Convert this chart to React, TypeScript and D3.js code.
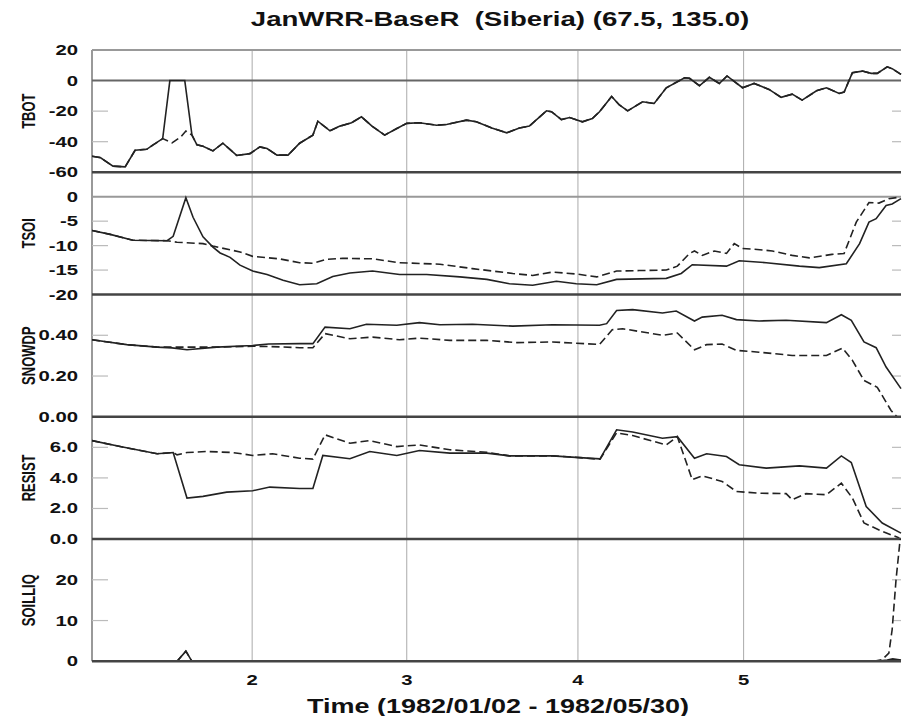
import React, { useEffect, useRef } from "react";
import * as d3 from "d3";

const WIDTH = 902;
const HEIGHT = 716;

// x is day of year 1982 (Jan 1 = 0), ticks at month starts
const monthTicks = [31, 59, 90, 120];
const monthLabels = ["2", "3", "4", "5"];

// TBOT (solid run, dashed run)
const tbotA = [
  [2, -49.5], [3.5, -50.4], [5.8, -56], [8, -56.5], [9.8, -45.6], [11.9, -45], [13, -42.3],
  [14.8, -38], [16.1, 0], [18.8, 0], [20.1, -35.7], [21, -42], [22.1, -43], [23.9, -46],
  [25.7, -41], [28.2, -49], [30.6, -47.8], [32.4, -43.4], [33.7, -44.5], [35.5, -48.8],
  [37.5, -48.8], [39.6, -41], [42, -35.7], [42.9, -26.6], [45.1, -32.9], [46.9, -29.8],
  [49, -27.6], [50.8, -23.7], [52.7, -29.8], [55, -35.7], [57.2, -31.4], [59, -28],
  [61.3, -27.6], [64.4, -29.2], [66.2, -28.7], [69.8, -25.9], [71.6, -27], [74.4, -31],
  [77.1, -34.2], [79.4, -31], [81.2, -29.8], [84.3, -19.8], [85.2, -20.4], [87, -25.5],
  [88.5, -24.2], [90.8, -27], [92.6, -24.8], [93.9, -20.4], [96.1, -10.4], [97.5, -16],
  [99, -19.8], [101.7, -13.9], [103.8, -15], [106, -4.7], [109.3, 1.8], [110.2, 1.5],
  [112, -3.4], [113.8, 2.1], [115.6, -1.9], [117, 3], [119.8, -4.7], [121.9, -1.9],
  [124.6, -5.8], [126.8, -11], [128.8, -8.9], [130.6, -12.8], [133.2, -6.7], [135, -4.7],
  [137.3, -8.4], [138.2, -7.5], [139.7, 5.1], [141.5, 6.2], [143.1, 4.7], [144.2, 4.7],
  [146, 9], [146.9, 7.8], [148.5, 4],
];
// dashed run only differs around the warm spike
const tbotB = [
  ...tbotA.slice(0, 8),
  [16.5, -40.8], [18.1, -36.8], [19, -33],
  ...tbotA.slice(10),
];

// TSOI
const tsoiA = [
  [2, -6.9], [5.3, -7.7], [9.4, -8.9], [15.6, -9], [16.7, -8.1], [19, -0.2], [20.3, -4.2],
  [22.1, -8.2], [23.9, -10.3], [25.2, -11.5], [27, -12.4], [28.8, -14], [31.1, -15.2],
  [33.7, -15.9], [36.6, -17.1], [39.6, -18], [42.7, -17.8], [45.6, -16.3], [48.7, -15.6],
  [52.8, -15.2], [57.7, -15.9], [62.6, -15.9], [68.6, -16.4], [73.5, -16.9], [77.6, -17.8],
  [81.8, -18.1], [86.1, -17.3], [89.7, -17.8], [93.4, -18], [97, -16.9], [106, -16.7],
  [108.7, -15.7], [110.7, -13.9], [116.9, -14.2], [119.2, -13.1], [124.1, -13.5],
  [130.1, -14.2], [133.7, -14.5], [138.6, -13.7], [141, -9.6], [142.7, -5.2], [144, -4.5],
  [145.8, -1.8], [146.9, -1.5], [148.5, -0.4],
];
const tsoiB = [
  [2, -6.9], [5.3, -7.7], [9.4, -8.9], [15.6, -9], [17.4, -9.3], [22.1, -9.6], [23.9, -10.1],
  [28.8, -11.3], [31.1, -12.2], [35.9, -12.7], [39.6, -13.5], [42, -13.6], [44.5, -12.8],
  [47.4, -12.6], [52.8, -12.7], [57.7, -13.5], [65, -13.8], [70.9, -14.7], [78.2, -15.7],
  [81.8, -16.1], [85.4, -15.4], [89.7, -15.8], [93.4, -16.4], [97, -15.2], [101.1, -15.1],
  [106, -15], [108, -14.2], [110.2, -11.6], [111.1, -11.1], [112.5, -12], [114.7, -11.1],
  [116.9, -11.6], [118.3, -9.6], [119.8, -10.6], [121.6, -10.7], [125.2, -11.1],
  [128.8, -12], [131.9, -12.5], [136, -11.8], [138.2, -11.6], [140.4, -5.2], [142.7, -1.2],
  [144.5, -1.3], [146.3, -0.4], [148.2, -0.1],
];

// SNOWDP
const snowA = [
  [2, 0.378], [8.3, 0.354], [13.8, 0.342], [16.5, 0.338], [19.2, 0.329], [24.6, 0.342],
  [31.1, 0.35], [34, 0.357], [39.6, 0.359], [42, 0.359], [44.2, 0.44], [48.7, 0.432],
  [51.7, 0.454], [57.2, 0.449], [61.3, 0.462], [65, 0.452], [70.9, 0.454], [78.2, 0.445],
  [85.4, 0.452], [93.9, 0.449], [95.2, 0.457], [97, 0.522], [99.9, 0.526], [105.3, 0.509],
  [107.8, 0.519], [111.1, 0.47], [112.5, 0.489], [116.1, 0.498], [118.7, 0.477],
  [122.8, 0.47], [127.7, 0.474], [135, 0.462], [137.7, 0.501], [139.5, 0.473],
  [141.8, 0.367], [144, 0.339], [145.8, 0.244], [148.5, 0.138],
];
const snowB = [
  [2, 0.378], [8.3, 0.354], [13.8, 0.342], [19.2, 0.342], [24.6, 0.342], [31.1, 0.346],
  [34, 0.345], [39.6, 0.339], [42, 0.339], [44.2, 0.408], [48.7, 0.383], [52.8, 0.391],
  [57.7, 0.378], [61.3, 0.386], [66.8, 0.375], [73.5, 0.375], [78.9, 0.364], [85.4, 0.367],
  [93.9, 0.355], [96.2, 0.427], [98.1, 0.432], [105.3, 0.4], [108, 0.411], [111.1, 0.329],
  [113.3, 0.354], [116.1, 0.357], [118.7, 0.326], [122.8, 0.317], [128.8, 0.301],
  [135, 0.301], [137.9, 0.337], [139.7, 0.277], [141.8, 0.178], [144.2, 0.145],
  [146.7, 0.031], [147.8, 0],
];

// RESIST
const resistA = [
  [2, 6.44], [7.1, 6.05], [13.8, 5.58], [16.7, 5.66], [19.2, 2.68], [22.1, 2.79],
  [26.4, 3.07], [31.1, 3.16], [34.2, 3.4], [39.6, 3.31], [42, 3.31], [43.8, 5.47],
  [48.7, 5.25], [52.3, 5.73], [57.2, 5.47], [61.3, 5.79], [66.8, 5.62], [73.5, 5.62],
  [77.6, 5.44], [85.4, 5.44], [90.3, 5.33], [94, 5.25], [95.5, 6.2], [97, 7.15],
  [99.9, 7.0], [105.3, 6.6], [108, 6.7], [111.1, 5.29], [113.3, 5.58], [116.9, 5.4],
  [119.2, 4.86], [124.1, 4.64], [130.1, 4.79], [135, 4.64], [137.7, 5.44], [139.5, 5.01],
  [142.2, 2.13], [145.1, 1.05], [148.5, 0.39],
];
const resistB = [
  [2, 6.44], [7.1, 6.05], [13.8, 5.58], [16.7, 5.66], [17.4, 5.51], [19.2, 5.66],
  [22.8, 5.73], [27.5, 5.66], [31.1, 5.47], [34.7, 5.58], [39.6, 5.29], [42, 5.23],
  [44.2, 6.82], [48.7, 6.27], [52.3, 6.44], [57.2, 6.05], [61.3, 6.16], [66.8, 5.84],
  [73.5, 5.68], [77.6, 5.44], [85.4, 5.44], [90.3, 5.33], [94, 5.22], [97, 6.95],
  [99.9, 6.77], [106, 6.16], [108, 6.7], [110.7, 3.88], [112.5, 4.14], [116.1, 3.77],
  [118.7, 3.11], [122.8, 3.0], [127.7, 2.97], [128.8, 2.57], [131.3, 2.97], [135, 2.9],
  [137.7, 3.66], [139.7, 2.68], [141.8, 1.05], [145.1, 0.5], [148.2, 0.07],
];

// SOILLIQ
const soilA = [
  [2, 0], [17.4, 0], [19, 2.5], [20.1, 0], [144, 0], [146, 0.3], [147, 0.6], [148.5, 0.3],
];
const soilB = [
  [2, 0], [17.4, 0], [19, 2.5], [20.1, 0], [143.5, 0], [145.1, 0.4], [146.3, 2],
  [146.9, 7.8], [147.6, 20], [148.5, 32],
];

const panels = [
  { name: "TBOT", domain: [-60, 20], ticks: [20, 0, -20, -40, -60], fmt: "d", lines: [20, 0], a: tbotA, b: tbotB },
  { name: "TSOI", domain: [-20, 5], ticks: [0, -5, -10, -15, -20], fmt: "d", lines: [0], a: tsoiA, b: tsoiB },
  { name: "SNOWDP", domain: [0, 0.6], ticks: [0.4, 0.2, 0], fmt: ".2f", lines: [], a: snowA, b: snowB },
  { name: "RESIST", domain: [0, 8], ticks: [6, 4, 2, 0], fmt: ".1f", lines: [], a: resistA, b: resistB },
  { name: "SOILLIQ", domain: [0, 30], ticks: [20, 10, 0], fmt: "d", lines: [], a: soilA, b: soilB },
];

const App = () => {
  const svgRef = useRef(null);

  useEffect(() => {
    const svg = d3.select(svgRef.current);
    svg.selectAll("*").remove();

    const left = 92;
    const right = 901;
    const top = 50;
    const bottom = 661.3;
    const ph = (bottom - top) / panels.length;
    const font = "'Liberation Sans', Arial, sans-serif";

    const x = d3.scaleLinear().domain([2, 148.5]).range([left, right]);

    svg.append("rect").attr("width", WIDTH).attr("height", HEIGHT).attr("fill", "#fff");

    // title (two spaces kept)
    svg
      .append("text")
      .attr("transform", `translate(500,26) scale(1.38,1)`)
      .attr("text-anchor", "middle")
      .style("font-family", font)
      .style("font-weight", "bold")
      .style("font-size", "20px")
      .style("white-space", "pre")
      .attr("fill", "#111")
      .text("JanWRR-BaseR  (Siberia) (67.5, 135.0)");

    // vertical grid lines at month starts
    svg
      .selectAll(".vgrid")
      .data(monthTicks)
      .enter()
      .append("line")
      .attr("x1", (d) => x(d))
      .attr("x2", (d) => x(d))
      .attr("y1", top)
      .attr("y2", bottom)
      .attr("stroke", "#aaa")
      .attr("stroke-width", 1);

    // left axis line
    svg
      .append("line")
      .attr("x1", left)
      .attr("x2", left)
      .attr("y1", top)
      .attr("y2", bottom)
      .attr("stroke", "#999")
      .attr("stroke-width", 2);

    const line = d3
      .line()
      .x((d) => x(d[0]))
      .curve(d3.curveLinear);

    panels.forEach((p, i) => {
      const y0 = top + i * ph;
      const y1 = top + (i + 1) * ph;
      const y = d3.scaleLinear().domain(p.domain).range([y1, y0]);
      const g = svg.append("g");

      svg
        .append("clipPath")
        .attr("id", `clip${i}`)
        .append("rect")
        .attr("x", left)
        .attr("y", y0)
        .attr("width", right - left + 1)
        .attr("height", ph);

      // inner ticks both sides
      const inner = p.ticks.filter((t) => !p.lines.includes(t) && t !== p.domain[0]);
      g.selectAll(".lt")
        .data(inner)
        .enter()
        .append("line")
        .attr("x1", left)
        .attr("x2", left + 16)
        .attr("y1", (d) => y(d))
        .attr("y2", (d) => y(d))
        .attr("stroke", "#bbb")
        .attr("stroke-width", 1.2);
      g.selectAll(".rt")
        .data(inner)
        .enter()
        .append("line")
        .attr("x1", right - 9)
        .attr("x2", right)
        .attr("y1", (d) => y(d))
        .attr("y2", (d) => y(d))
        .attr("stroke", "#bbb")
        .attr("stroke-width", 1.2);

      // reference lines inside a panel
      g.selectAll(".ref")
        .data(p.lines)
        .enter()
        .append("line")
        .attr("x1", left)
        .attr("x2", right)
        .attr("y1", (d) => y(d))
        .attr("y2", (d) => y(d))
        .attr("stroke", (d) => (d === 0 && i === 0 ? "#666" : "#999"))
        .attr("stroke-width", 2);

      // data
      const ln = line.y((d) => y(d[1]));
      g.append("path")
        .attr("d", ln(p.b))
        .attr("fill", "none")
        .attr("stroke", "#222")
        .attr("stroke-width", 1.6)
        .attr("stroke-dasharray", "8,4")
        .attr("clip-path", `url(#clip${i})`);
      g.append("path")
        .attr("d", ln(p.a))
        .attr("fill", "none")
        .attr("stroke", "#222")
        .attr("stroke-width", 1.6)
        .attr("clip-path", `url(#clip${i})`);

      // panel bottom boundary
      g.append("line")
        .attr("x1", left)
        .attr("x2", right)
        .attr("y1", y1)
        .attr("y2", y1)
        .attr("stroke", "#444")
        .attr("stroke-width", 2.5);

      // tick labels
      const fmt = d3.format(p.fmt);
      g.selectAll(".tl")
        .data(p.ticks)
        .enter()
        .append("text")
        .attr("transform", (d) => `translate(78,${y(d) + 5}) scale(1.45,1)`)
        .attr("text-anchor", "end")
        .style("font-family", font)
        .style("font-weight", "bold")
        .style("font-size", "14px")
        .attr("fill", "#111")
        .text((d) => fmt(d).replace("\u2212", "-"));

      // panel title
      g.append("text")
        .attr("transform", `translate(35,${(y0 + y1) / 2}) scale(1.35,1) rotate(-90)`)
        .attr("text-anchor", "middle")
        .style("font-family", font)
        .style("font-weight", "bold")
        .style("font-size", "13px")
        .attr("fill", "#111")
        .text(p.name);
    });

    // bottom axis labels
    svg
      .selectAll(".xl")
      .data(monthTicks)
      .enter()
      .append("text")
      .attr("transform", (d) => `translate(${x(d)},685) scale(1.45,1)`)
      .attr("text-anchor", "middle")
      .style("font-family", font)
      .style("font-weight", "bold")
      .style("font-size", "14px")
      .attr("fill", "#111")
      .text((d, i) => monthLabels[i]);

    svg
      .append("text")
      .attr("transform", `translate(498,713) scale(1.35,1)`)
      .attr("text-anchor", "middle")
      .style("font-family", font)
      .style("font-weight", "bold")
      .style("font-size", "20px")
      .attr("fill", "#111")
      .text("Time (1982/01/02 - 1982/05/30)");
  }, []);

  return (
    <svg
      ref={svgRef}
      width={WIDTH}
      height={HEIGHT}
      style={{ position: "absolute", left: 0, top: 0, display: "block" }}
    />
  );
};

export default App;
